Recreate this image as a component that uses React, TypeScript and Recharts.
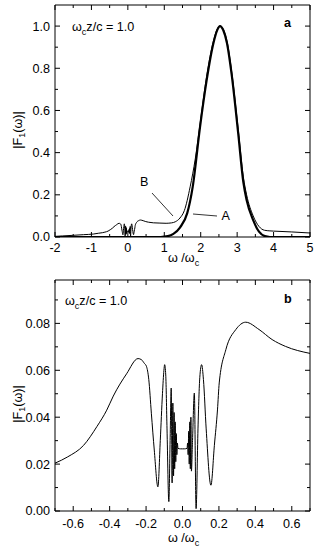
import React from "react";
import { LineChart, Line, XAxis, YAxis, ReferenceArea, Customized } from "recharts";

// panel a, curve A (thick)
const aX = [-2, 0.9, 1.1, 1.25, 1.43, 1.63, 1.78, 1.98, 2.16, 2.35, 2.45, 2.53, 2.62, 2.72, 2.85, 3.03, 3.17, 3.26, 3.44, 3.6, 3.76, 3.9, 5];
const aY = [0, 0, 0.004, 0.015, 0.045, 0.113, 0.238, 0.52, 0.74, 0.92, 0.98, 1.0, 0.98, 0.92, 0.77, 0.49, 0.26, 0.175, 0.08, 0.025, 0.004, 0, 0];

// panel a, curve B (thin): left tail, central region (same as panel b), right part
const bLeftX = [-2, -1.8, -1.5, -1.22, -0.95, -0.8];
const bLeftY = [0.003, 0.005, 0.008, 0.011, 0.014, 0.018];
const bRightX = [0.88, 1.05, 1.2, 1.3, 1.43, 1.55, 1.71, 1.85, 2.0, 2.16, 2.35, 2.45, 2.53, 2.62, 2.72, 2.85, 3.03, 3.17, 3.26, 3.44, 3.6, 3.75, 3.9, 4.0, 4.5, 5.0];
const bRightY = [0.066, 0.065, 0.067, 0.072, 0.09, 0.125, 0.238, 0.37, 0.56, 0.76, 0.93, 0.985, 1.0, 0.985, 0.93, 0.785, 0.51, 0.285, 0.2, 0.1, 0.05, 0.032, 0.029, 0.028, 0.024, 0.019];

// panel b (zoom of B around 0)
const zoomX = [-0.7, -0.63, -0.543, -0.47, -0.416, -0.38, -0.307, -0.244, -0.225, -0.21, -0.198, -0.185, -0.171, -0.155, -0.135, -0.122, -0.11, -0.102, -0.098, -0.092, -0.085, -0.075, -0.068, -0.062, -0.057, -0.053, -0.049, -0.046, -0.043, -0.04, -0.037, -0.034, -0.031, -0.028, -0.025, -0.01, 0, 0.01, 0.025, 0.028, 0.031, 0.034, 0.037, 0.04, 0.043, 0.046, 0.049, 0.055, 0.065, 0.0746, 0.085, 0.095, 0.105, 0.115, 0.13, 0.156, 0.175, 0.192, 0.2016, 0.238, 0.293, 0.347, 0.42, 0.492, 0.565, 0.7];
const zoomY = [0.0204, 0.0231, 0.028, 0.036, 0.043, 0.049, 0.0585, 0.065, 0.0645, 0.063, 0.0617, 0.056, 0.0417, 0.026, 0.0103, 0.03, 0.05, 0.06, 0.0624, 0.058, 0.035, 0.004, 0.03, 0.0524, 0.012, 0.046, 0.015, 0.042, 0.018, 0.038, 0.021, 0.033, 0.024, 0.029, 0.0267, 0.0265, 0.0265, 0.0265, 0.0267, 0.029, 0.024, 0.034, 0.02, 0.038, 0.018, 0.04, 0.017, 0.03, 0.0503, 0.001, 0.035, 0.057, 0.0624, 0.056, 0.035, 0.011, 0.028, 0.0431, 0.0546, 0.0688, 0.0774, 0.0805, 0.0774, 0.0731, 0.0702, 0.0672];

// ticks
const aXMajor = [-2, -1, 0, 1, 2, 3, 4, 5];
const aXMinor = [-1.5, -0.5, 0.5, 1.5, 2.5, 3.5, 4.5];
const aYMajor = [0, 0.2, 0.4, 0.6, 0.8, 1.0];
const aYMinor = [0.1, 0.3, 0.5, 0.7, 0.9];
const bXMajor = [-0.6, -0.4, -0.2, 0, 0.2, 0.4, 0.6];
const bXMinor = [-0.7, -0.5, -0.3, -0.1, 0.1, 0.3, 0.5, 0.7];
const bYMajor = [0, 0.02, 0.04, 0.06, 0.08];
const bYMinor = [0.01, 0.03, 0.05, 0.07, 0.09];

const zip = (xs: number[], ys: number[]) => xs.map((x, i) => ({ x, y: ys[i] }));
const aData = zip(aX, aY);
const bData = [...zip(bLeftX, bLeftY), ...zip(zoomX, zoomY), ...zip(bRightX, bRightY)];
const zoomData = zip(zoomX, zoomY);

const font = "'Liberation Sans', Arial, Helvetica, sans-serif";
const fs = 12.6;
const isMajor = (list: number[], v: number) => list.some((m) => Math.abs(m - v) < 1e-9);

function xTick(majors: number[], top: number, dy: number, fmt: (v: number) => string) {
  return (p: any) => {
    const v = p.payload.value;
    const major = isMajor(majors, v);
    const len = major ? 5 : 3;
    return (
      <g>
        <line x1={p.x} x2={p.x} y1={p.y} y2={p.y - len} stroke="#000" />
        <line x1={p.x} x2={p.x} y1={top} y2={top + len} stroke="#000" />
        {major && (
          <text x={p.x} y={p.y + dy} textAnchor="middle" fontSize={fs} fontFamily={font} fill="#000">
            {fmt(v)}
          </text>
        )}
      </g>
    );
  };
}

function yTick(majors: number[], right: number, fmt: (v: number) => string) {
  return (p: any) => {
    const v = p.payload.value;
    const major = isMajor(majors, v);
    const len = major ? 5 : 3;
    return (
      <g>
        <line x1={p.x} x2={p.x + len} y1={p.y} y2={p.y} stroke="#000" />
        <line x1={right} x2={right - len} y1={p.y} y2={p.y} stroke="#000" />
        {major && (
          <text x={p.x - 5} y={p.y} dy="0.35em" textAnchor="end" fontSize={fs} fontFamily={font} fill="#000">
            {fmt(v)}
          </text>
        )}
      </g>
    );
  };
}

const txt = { fontFamily: font, fontSize: fs, fill: "#000" };

function Titles({ top, panel }: { top: number; panel: "a" | "b" }) {
  const paramX = panel === "a" ? 72 : 65;
  const paramY = panel === "a" ? 31 : 30;
  const letterY = panel === "a" ? 27 : 28;
  return (
    <g>
      <text x={paramX} y={paramY} {...txt}>
        ω<tspan fontSize={9} dy={4}>c</tspan>
        <tspan dy={-4}>z/c = 1.0</tspan>
      </text>
      <text x={284} y={letterY} {...txt} fontWeight="bold">
        {panel}
      </text>
      <text x={168} y={top} {...txt}>
        ω /ω<tspan fontSize={9} dy={4}>c</tspan>
      </text>
      <text x={22} y={panel === "a" ? 130 : 129} transform={`rotate(-90, 22, ${panel === "a" ? 130 : 129})`} textAnchor="middle" {...txt}>
        |F<tspan fontSize={9} dy={3}>1</tspan>
        <tspan dy={-3}>(ω)|</tspan>
      </text>
    </g>
  );
}

function Pointers() {
  return (
    <g>
      <text x={140} y={186} {...txt}>B</text>
      <line x1={152} y1={193} x2={173} y2={216} stroke="#000" strokeWidth={0.8} />
      <text x={221.5} y={219.5} {...txt}>A</text>
      <line x1={193} y1={214} x2={217} y2={216} stroke="#000" strokeWidth={0.8} />
    </g>
  );
}

export default function App() {
  return (
    <div style={{ position: "absolute", left: 0, top: 0, width: 317, height: 556, background: "#fff" }}>
      <div style={{ position: "absolute", left: 0, top: 0 }}>
        <LineChart width={317} height={280} margin={{ top: 5, right: 7, bottom: 0, left: 0 }}>
          <XAxis
            dataKey="x"
            type="number"
            domain={[-2, 5]}
            allowDataOverflow
            ticks={[...aXMajor, ...aXMinor].sort((p, q) => p - q)}
            interval={0}
            height={43}
            tickSize={0}
            tickMargin={0}
            axisLine={false}
            tick={xTick(aXMajor, 5, 15, (v) => String(v))}
          />
          <YAxis
            type="number"
            domain={[0, 1.1]}
            allowDataOverflow
            ticks={[...aYMajor, ...aYMinor].sort((p, q) => p - q)}
            interval={0}
            width={55}
            tickSize={0}
            tickMargin={0}
            axisLine={false}
            tick={yTick(aYMajor, 310, (v) => v.toFixed(1))}
          />
          <ReferenceArea x1={-2} x2={5} y1={0} y2={1.1} fill="none" stroke="#000" strokeWidth={1} />
          <Line data={bData} dataKey="y" type="monotone" stroke="#000" strokeWidth={1} dot={false} isAnimationActive={false} />
          <Line data={aData} dataKey="y" type="monotone" stroke="#000" strokeWidth={2.2} dot={false} isAnimationActive={false} />
          <Customized component={() => <Titles top={262} panel="a" />} />
          <Customized component={Pointers} />
        </LineChart>
      </div>
      <div style={{ position: "absolute", left: 0, top: 275 }}>
        <LineChart width={317} height={281} margin={{ top: 5, right: 7, bottom: 0, left: 0 }}>
          <XAxis
            dataKey="x"
            type="number"
            domain={[-0.7, 0.7]}
            allowDataOverflow
            ticks={[...bXMajor, ...bXMinor].sort((p, q) => p - q)}
            interval={0}
            height={45}
            tickSize={0}
            tickMargin={0}
            axisLine={false}
            tick={xTick(bXMajor, 5, 16.5, (v) => v.toFixed(1))}
          />
          <YAxis
            type="number"
            domain={[0, 0.0985]}
            allowDataOverflow
            ticks={[...bYMajor, ...bYMinor].sort((p, q) => p - q)}
            interval={0}
            width={55}
            tickSize={0}
            tickMargin={0}
            axisLine={false}
            tick={yTick(bYMajor, 310, (v) => v.toFixed(2))}
          />
          <ReferenceArea x1={-0.7} x2={0.7} y1={0} y2={0.0985} fill="none" stroke="#000" strokeWidth={1} />
          <Line data={zoomData} dataKey="y" type="monotone" stroke="#000" strokeWidth={1} dot={false} isAnimationActive={false} />
          <Customized component={() => <Titles top={267} panel="b" />} />
        </LineChart>
      </div>
    </div>
  );
}
